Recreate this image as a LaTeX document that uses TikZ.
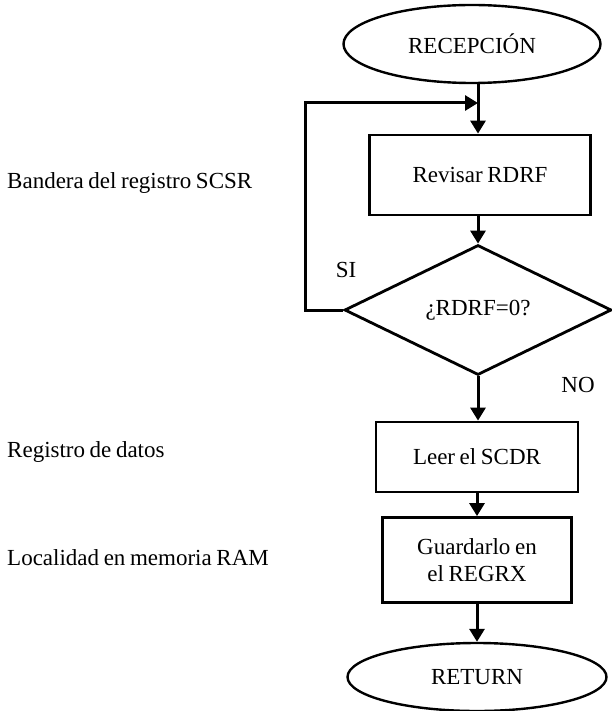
\documentclass[tikz,border=0pt]{standalone}
\usepackage{fontspec}
\setmainfont{Liberation Serif}
\usetikzlibrary{shapes.geometric,arrows.meta}
\newcommand{\chartfont}{\fontsize{23}{27}\selectfont\spaceskip=0.2em plus 0.05em minus 0.05em\relax}
\begin{document}
\begin{tikzpicture}[x=1pt,y=-1pt,
  every node/.style={font=\chartfont, inner sep=0pt},
  terminal/.style={draw, ellipse, line width=2.4pt},
  process/.style={draw, rectangle, line width=2.8pt, align=center},
  decision/.style={draw, diamond, line width=2.8pt},
  flow/.style={line width=3pt, -{Triangle[length=13pt,width=15pt]}},
  note/.style={anchor=west}]
\useasboundingbox (0,0) rectangle (612,711);

% main column
\node[terminal, minimum width=257pt, minimum height=78pt] (rec) at (472,44) {RECEPCIÓN};
\node[process, minimum width=221pt, minimum height=80pt] (rev) at (480,175) {Revisar RDRF};
\node[decision, minimum width=267pt, minimum height=130pt] (dec) at (478,310) {¿RDRF=0?};
\node[process, minimum width=202pt, minimum height=70pt] (leer) at (477,457) {Leer el SCDR};
\node[process, minimum width=189pt, minimum height=85pt] (guard) at (477,560) {Guardarlo en\\el REGRX};
\node[terminal, minimum width=259pt, minimum height=68pt] (ret) at (477,677) {RETURN};

% loop back point on the incoming line
\coordinate (join) at (478,103);

% connectors
\draw[flow] (rec.south -| join) -- (join |- rev.north);
\draw[flow] (dec.west) -- ++(-38,0) |- (join);
\draw[flow] (join |- rev.south) -- (dec.north);
\draw[flow] (dec.south) -- (join |- leer.north);
\draw[flow] (leer) -- (guard);
\draw[flow] (guard) -- (ret.north);

% branch labels
\node (si) at (346,270) {SI};
\node (no) at (578,385) {NO};

% side notes
\node[note] (n1) at (7,183) {Bandera del registro SCSR};
\node[note] (n2) at (7,452) {Registro de datos};
\node[note] (n3) at (7,558) {Localidad en memoria RAM};
\end{tikzpicture}
\end{document}
